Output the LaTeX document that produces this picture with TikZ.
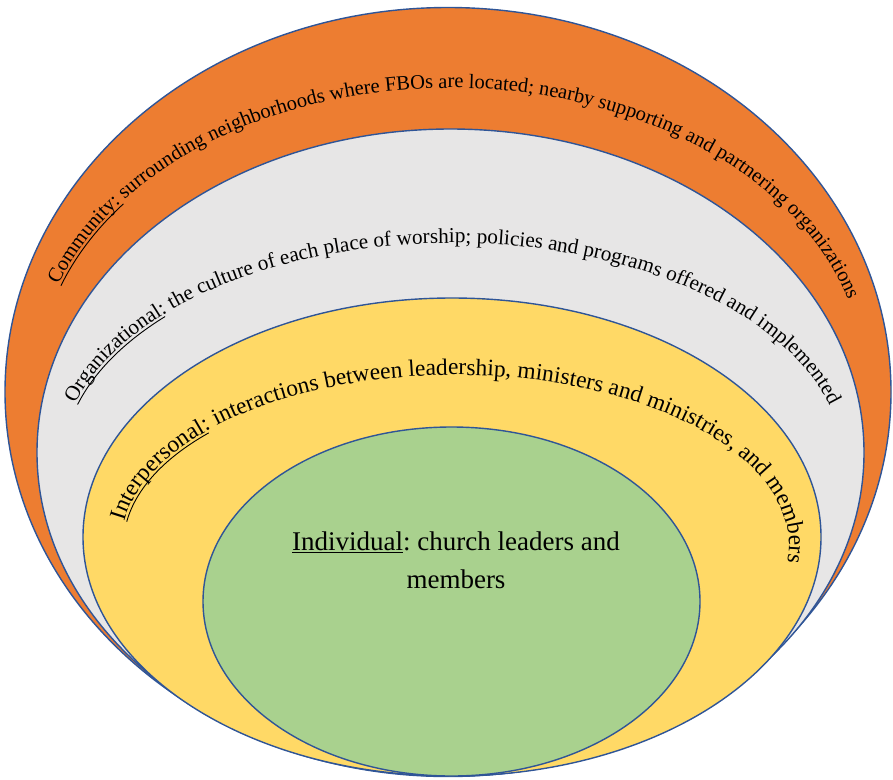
\documentclass[tikz,border=0pt]{standalone}
\usepackage{fontspec}
\setmainfont{Liberation Serif}
\usetikzlibrary{decorations.text}
\definecolor{ringline}{HTML}{2F5597}
\definecolor{cOrange}{HTML}{ED7D31}
\definecolor{cGray}{HTML}{E7E6E6}
\definecolor{cYellow}{HTML}{FFD966}
\definecolor{cGreen}{HTML}{A9D18E}
\newcommand\fCom{\fontsize{20.5}{24}\selectfont}
\newcommand\fOrg{\fontsize{21.2}{25}\selectfont}
\newcommand\fInt{\fontsize{23.5}{28}\selectfont}
\newlength\ulCom
\newlength\ulOrg
\newlength\ulInt
\tikzset{
  ring/.style={draw=ringline, line width=1.4pt},
  arctext/.style={decorate, decoration={text along path, text align=left, text={#1}}},
  ulline/.style={draw=black, line width=0.9pt},
}
\frenchspacing
\begin{document}
\settowidth\ulCom{\fCom Community:}%
\settowidth\ulOrg{\fOrg Organizational}%
\settowidth\ulInt{\fInt Interpersonal}%
\begin{tikzpicture}[x=1pt,y=1pt]
\useasboundingbox (0,0) rectangle (893,-779);
% ellipses
\coordinate (eO) at (448,-392);
\coordinate (eG) at (450.5,-452.5);
\coordinate (eY) at (452,-537);
\coordinate (eI) at (451.5,-601.5);
\draw[ring, fill=cOrange] (eO) ellipse[x radius=443, y radius=384.5];
\draw[ring, fill=cGray] (eG) ellipse[x radius=413.5, y radius=323.5];
\draw[ring, fill=cYellow] (eY) ellipse[x radius=369, y radius=239];
\draw[ring, fill=cGreen] (eI) ellipse[x radius=248.5, y radius=174.5];
% text path centres
\coordinate (cA) at (450,-380);
\coordinate (cB) at (452,-465);
\coordinate (cC) at (455,-545);
% texts
\path[arctext={|\fCom|Community: surrounding neighborhoods where FBOs are located; nearby supporting and partnering organizations}]
  ([shift={(161:414 and 292)}]cA) arc[start angle=161, end angle=-5, x radius=414, y radius=292];
\path[arctext={|\fOrg|Organizational: the culture of each place of worship; policies and programs offered and implemented}]
  ([shift={(164:392 and 222)}]cB) arc[start angle=164, end angle=-5, x radius=392, y radius=222];
\path[arctext={|\fInt|Interpersonal: interactions between leadership, ministers and ministries, and members}]
  ([shift={(172:334 and 170)}]cC) arc[start angle=172, end angle=-25, x radius=334, y radius=170];
% underlines
\draw[ulline, dash pattern=on \ulCom off 4000pt]
  ([shift={(161:411.5 and 289.5)}]cA) arc[start angle=161, end angle=100, x radius=411.5, y radius=289.5];
\draw[ulline, dash pattern=on \ulOrg off 4000pt]
  ([shift={(164:389.5 and 219.5)}]cB) arc[start angle=164, end angle=100, x radius=389.5, y radius=219.5];
\draw[ulline, dash pattern=on \ulInt off 4000pt]
  ([shift={(172:331.5 and 167.5)}]cC) arc[start angle=172, end angle=100, x radius=331.5, y radius=167.5];
\node[font=\fontsize{27}{38}\selectfont, align=center, inner sep=0pt] (ind) at (456,-560) {\underline{Individual}:\ church leaders and\\members};
\end{tikzpicture}
\end{document}
